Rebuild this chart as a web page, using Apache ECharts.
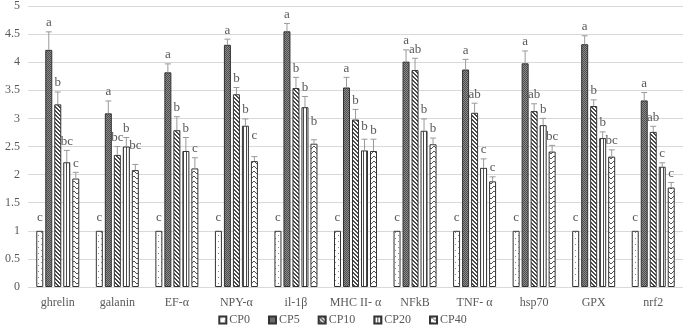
<!DOCTYPE html>
<html>
<head>
<meta charset="utf-8">
<script src="https://cdn.jsdelivr.net/npm/echarts@6/dist/echarts.min.js"></script>
<style>
  html, body { margin: 0; padding: 0; background: #fff; }
  #chart { width: 685px; height: 334px; }
</style>
</head>
<body>
<div id="chart"></div>
<script>
  const categories = ['ghrelin', 'galanin', 'EF-α', 'NPY-α', 'il-1β', 'MHC II- α', 'NFkB', 'TNF- α', 'hsp70', 'GPX', 'nrf2']
  const seriesNames = ['CP0', 'CP5', 'CP10', 'CP20', 'CP40']
  const yTicks = [0, 5, 0.5] // min, max, step

  const cp0 = [1, 1, 1, 1, 1, 1, 1, 1, 1, 1, 1]
  const cp5 = [4.22, 3.09, 3.82, 4.31, 4.55, 3.55, 4.01, 3.87, 3.98, 4.32, 3.32]
  const cp10 = [3.25, 2.35, 2.79, 3.43, 3.54, 2.98, 3.86, 3.10, 3.13, 3.22, 2.76]
  const cp20 = [2.22, 2.50, 2.42, 2.87, 3.20, 2.43, 2.78, 2.12, 2.88, 2.65, 2.14]
  const cp40 = [1.93, 2.08, 2.11, 2.24, 2.55, 2.42, 2.54, 1.88, 2.41, 2.32, 1.77]

  // upper error (SD)
  const cp0Sd = [0, 0, 0, 0, 0, 0, 0, 0, 0, 0, 0]
  const cp5Sd = [0.32, 0.22, 0.15, 0.10, 0.14, 0.18, 0.21, 0.18, 0.22, 0.15, 0.14]
  const cp10Sd = [0.22, 0.15, 0.24, 0.12, 0.19, 0.18, 0.21, 0.17, 0.13, 0.11, 0.10]
  const cp20Sd = [0.21, 0.16, 0.24, 0.12, 0.19, 0.20, 0.21, 0.16, 0.12, 0.11, 0.07]
  const cp40Sd = [0.11, 0.10, 0.19, 0.08, 0.07, 0.21, 0.11, 0.08, 0.11, 0.12, 0.09]

  // significance letters
  const cp0Letters = ['c', 'c', 'c', 'c', 'c', 'c', 'c', 'c', 'c', 'c', 'c']
  const cp5Letters = ['a', 'a', 'a', 'a', 'a', 'a', 'a', 'a', 'a', 'a', 'a']
  const cp10Letters = ['b', 'bc', 'b', 'b', 'b', 'b', 'ab', 'ab', 'ab', 'b', 'ab']
  const cp20Letters = ['bc', 'b', 'b', 'b', 'b', 'b', 'b', 'c', 'b', 'b', 'c']
  const cp40Letters = ['c', 'bc', 'c', 'c', 'b', 'b', 'b', 'c', 'bc', 'bc', 'c']

  const means = [cp0, cp5, cp10, cp20, cp40]
  const sds = [cp0Sd, cp5Sd, cp10Sd, cp20Sd, cp40Sd]
  const letters = [cp0Letters, cp5Letters, cp10Letters, cp20Letters, cp40Letters]

  const FONT = '"Liberation Serif", "Times New Roman", serif'
  const TEXT = '#595959'
  const BAR_W = 7
  const PITCH = 9 // bar width + gap, px
  // a few letters sit higher in the original figure (px)
  const liftFix = { '1,4': 10, '3,4': 12, '4,4': 9, '5,3': 4 }

  // fill patterns
  const tile = (w, h, draw) => {
    const c = document.createElement('canvas')
    c.width = w
    c.height = h
    const ctx = c.getContext('2d')
    ctx.fillStyle = '#fff'
    ctx.fillRect(0, 0, w, h)
    draw(ctx)
    return { image: c, repeat: 'repeat' }
  }
  const patterns = [
    tile(6, 6, ctx => {
      ctx.fillStyle = '#8a8a8a'
      ctx.fillRect(2, 1, 1, 1)
      ctx.fillRect(5, 4, 1, 1)
    }),
    tile(2, 2, ctx => {
      ctx.fillStyle = '#8c8c8c'
      ctx.fillRect(0, 0, 2, 2)
      ctx.fillStyle = '#4d4d4d'
      ctx.fillRect(0, 0, 1, 1)
      ctx.fillRect(1, 1, 1, 1)
    }),
    tile(4, 4, ctx => {
      ctx.fillStyle = '#4a4a4a'
      for (let i = 0; i < 4; i++) {
        ctx.fillRect(i, i, 1, 1)
        ctx.fillRect((i + 1) % 4, i, 1, 1)
      }
    }),
    tile(3, 1, ctx => {
      ctx.fillStyle = '#4a4a4a'
      ctx.fillRect(0, 0, 1, 1)
    }),
    tile(6, 5, ctx => {
      ctx.fillStyle = '#555'
      ctx.fillRect(0, 2, 1, 1)
      ctx.fillRect(1, 1, 1, 1)
      ctx.fillRect(2, 1, 1, 1)
      ctx.fillRect(3, 2, 1, 1)
      ctx.fillRect(4, 3, 1, 1)
      ctx.fillRect(5, 3, 1, 1)
    }),
  ]

  const errData = []
  seriesNames.forEach((name, k) => {
    categories.forEach((c, i) => {
      errData.push([i, means[k][i], +(means[k][i] + sds[k][i]).toFixed(3), k])
    })
  })

  const renderErr = (params, api) => {
    const cat = api.value(0)
    const val = api.value(1)
    const top = api.value(2)
    const k = api.value(3)
    const base = api.coord([cat, val])
    const tip = api.coord([cat, top])
    const x = base[0] + (k - 2) * PITCH
    const children = []
    if (top > val) {
      const ls = { stroke: '#9a9a9a', lineWidth: 1 }
      children.push({ type: 'line', shape: { x1: x, y1: base[1], x2: x, y2: tip[1] }, style: ls })
      children.push({ type: 'line', shape: { x1: x - 3, y1: tip[1], x2: x + 3, y2: tip[1] }, style: ls })
    }
    let lift = top > val ? 5 : 9
    lift += liftFix[cat + ',' + k] || 0
    children.push({
      type: 'text',
      style: {
        text: letters[k][cat],
        x: x,
        y: tip[1] - lift - 4,
        align: 'center',
        verticalAlign: 'middle',
        fill: TEXT,
        font: '13px ' + FONT,
      },
    })
    return { type: 'group', children }
  }

  const myChart = echarts.init(document.getElementById('chart'))
  const option = {
    animation: false,
    textStyle: { fontFamily: FONT, color: TEXT },
    grid: { left: 28, right: 2, top: 3, bottom: 47, containLabel: false },
    legend: {
      data: seriesNames,
      bottom: 3,
      left: 'center',
      icon: 'rect',
      itemWidth: 7,
      itemHeight: 7,
      itemGap: 18,
      textStyle: { fontFamily: FONT, color: TEXT, fontSize: 12, padding: [0, 0, 0, -2] },
    },
    xAxis: {
      type: 'category',
      data: categories,
      axisLine: { show: false },
      axisTick: { show: false },
      axisLabel: { color: TEXT, fontFamily: FONT, fontSize: 12, margin: 10, interval: 0 },
    },
    yAxis: {
      type: 'value',
      min: yTicks[0],
      max: yTicks[1],
      interval: yTicks[2],
      axisLine: { show: false },
      axisTick: { show: false },
      axisLabel: { color: TEXT, fontFamily: FONT, fontSize: 12, margin: 8 },
      splitLine: { lineStyle: { color: '#d9d9d9', width: 1 } },
    },
    series: [
      ...seriesNames.map((name, k) => ({
        name,
        type: 'bar',
        barWidth: BAR_W,
        barGap: ((PITCH - BAR_W) / BAR_W * 100).toFixed(2) + '%',
        itemStyle: { color: patterns[k], borderColor: '#333', borderWidth: 1 },
        data: means[k],
      })),
      {
        name: 'err',
        type: 'custom',
        renderItem: renderErr,
        data: errData,
        z: 5,
        silent: true,
      },
    ],
  }
  option && myChart.setOption(option)
</script>
</body>
</html>
